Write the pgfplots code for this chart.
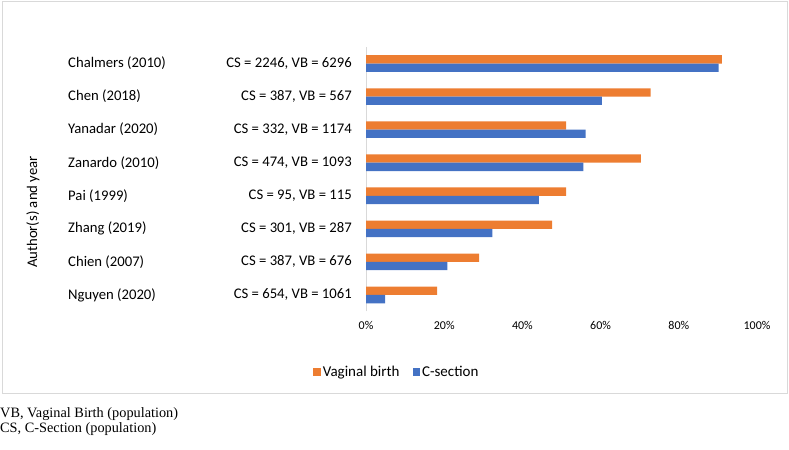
\documentclass[border=0pt]{standalone}
\usepackage{pgfplots}
\pgfplotsset{compat=1.18}
\usepackage{fontspec}
\setmainfont{Carlito}
\newfontfamily\timesfont{Liberation Serif}
\definecolor{vbor}{HTML}{ED7D31}
\definecolor{csbl}{HTML}{4472C4}
\definecolor{frm}{HTML}{D9D9D9}
\begin{document}
\begin{tikzpicture}
\useasboundingbox (0,0) rectangle (789bp,450bp);
\draw[frm, line width=1bp] (2bp,448.5bp) rectangle (787bp,56bp);
\begin{axis}[
  at={(366bp,138.5bp)}, anchor=south west,
  scale only axis, width=391bp, height=264.5bp,
  xmin=0, xmax=100, ymin=-0.5, ymax=7.5,
  axis x line=bottom, axis y line=left,
  x axis line style={draw=none,-},
  y axis line style={draw=frm,line width=1bp,-},
  xtick={0,20,40,60,80,100},
  xticklabels={0\%,20\%,40\%,60\%,80\%,100\%},
  ytick=\empty,
  major tick length=0pt,
  /pgf/number format/assume math mode=true,
  xticklabel style={font=\fontsize{12bp}{14bp}\selectfont, yshift=-6bp},
  xbar, bar width=8.3bp,
  clip=false,
  legend style={draw=none, at={(0.079,-0.2287)}, anchor=center,
    legend columns=2, font=\fontsize{15bp}{17bp}\selectfont,
    /tikz/every even column/.append style={column sep=11bp}},
  legend image code/.code={\fill[#1] (0bp,-3.8bp) rectangle (7.5bp,3.8bp);},
]
\addplot[fill=vbor, draw=none, bar shift=4.15bp] coordinates {
  (18.2,0) (28.9,1) (47.6,2) (51.2,3) (70.3,4) (51.2,5) (72.8,6) (91.0,7)};
\addlegendentry{Vaginal birth}
\addplot[fill=csbl, draw=none, bar shift=-4.15bp] coordinates {
  (4.9,0) (20.8,1) (32.3,2) (44.2,3) (55.6,4) (56.2,5) (60.3,6) (90.2,7)};
\addlegendentry{C-section}
\end{axis}
\begin{scope}[every node/.style={font=\fontsize{14.7bp}{17bp}\selectfont, inner sep=0pt}]
\foreach \a/\c [count=\i from 0] in {
  Chalmers (2010)/{CS = 2246, VB = 6296},
  Chen (2018)/{CS = 387, VB = 567},
  Yanadar (2020)/{CS = 332, VB = 1174},
  Zanardo (2010)/{CS = 474, VB = 1093},
  Pai (1999)/{CS = 95, VB = 115},
  Zhang (2019)/{CS = 301, VB = 287},
  Chien (2007)/{CS = 387, VB = 676},
  Nguyen (2020)/{CS = 654, VB = 1061}}{
  \pgfmathsetmacro\yy{450-63.5-33.06*\i}
  \node[anchor=west] at (68bp,\yy bp) {\a};
  \node[anchor=east] at (352bp,\yy bp) {\c};
}
\node[rotate=90] at (33bp,238bp) {Author(s) and year};
\end{scope}
\node[anchor=base west, inner sep=0pt, font=\timesfont\fontsize{14.3bp}{16bp}\selectfont] at (0bp,33bp) {VB, Vaginal Birth (population)};
\node[anchor=base west, inner sep=0pt, font=\timesfont\fontsize{14.3bp}{16bp}\selectfont] at (0bp,18bp) {CS, C-Section (population)};
\end{tikzpicture}
\end{document}
